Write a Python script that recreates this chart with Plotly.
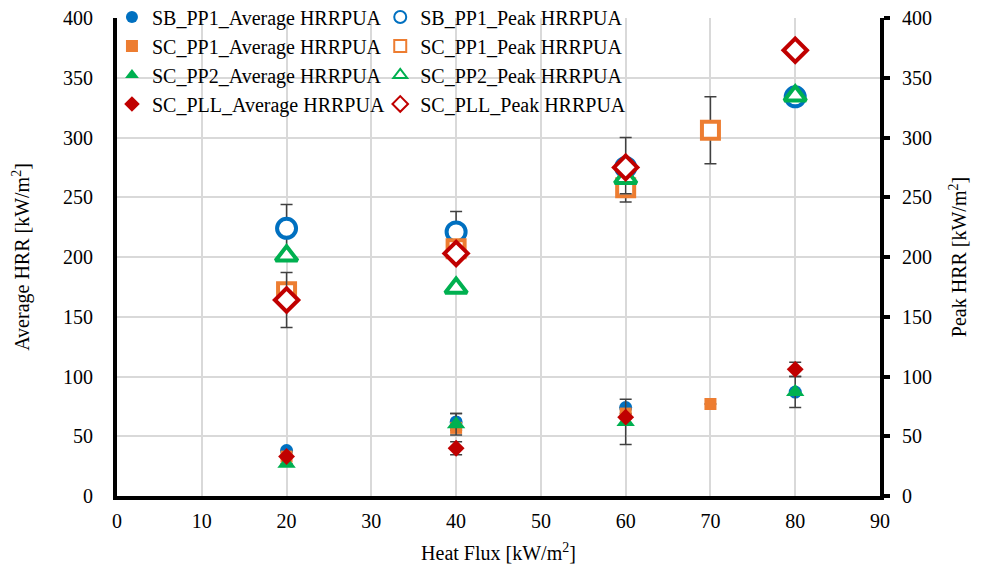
import plotly.graph_objects as go

heat_flux_4 = [20, 40, 60, 80]
heat_flux_pp1 = [20, 40, 60, 70]

sb_pp1_avg = [38, 62, 74, 87]
sb_pp1_avg_err = [0, 7, 0, 0]
sb_pp1_peak = [224, 221, 275, 334]
sb_pp1_peak_err = [20, 17, 25, 3]

sc_pp1_avg = [33, 57, 69, 77]
sc_pp1_avg_err = [0, 0, 0, 0]
sc_pp1_peak = [171, 207, 258, 306]
sc_pp1_peak_err = [0, 0, 12, 28]

sc_pp2_avg = [27, 60, 62, 87]
sc_pp2_avg_err = [0, 9, 19, 13]
sc_pp2_peak = [201, 174, 266, 335]
sc_pp2_peak_err = [0, 3, 13, 3]

sc_pll_avg = [33, 40, 66, 106]
sc_pll_avg_err = [0, 5.5, 0, 6]
sc_pll_peak = [164, 203, 275, 373]
sc_pll_peak_err = [23, 4, 0, 4]

BLUE = "#0070C0"
ORANGE = "#ED7D31"
GREEN = "#00B050"
RED = "#C00000"
ERR = "#404040"

FONT = "Times New Roman, Times, Liberation Serif, DejaVu Serif, serif"

def err(arr):
    return dict(type="data", array=arr, visible=True, color=ERR, thickness=1.5, width=6)

fig = go.Figure()

series = [
    ("SB_PP1", heat_flux_4, sb_pp1_avg, sb_pp1_avg_err, sb_pp1_peak, sb_pp1_peak_err, BLUE, "circle", 13, 19),
    ("SC_PP1", heat_flux_pp1, sc_pp1_avg, sc_pp1_avg_err, sc_pp1_peak, sc_pp1_peak_err, ORANGE, "square", 12, 17),
    ("SC_PP2", heat_flux_4, sc_pp2_avg, sc_pp2_avg_err, sc_pp2_peak, sc_pp2_peak_err, GREEN, "triangle-up", 16, 19),
    ("SC_PLL", heat_flux_4, sc_pll_avg, sc_pll_avg_err, sc_pll_peak, sc_pll_peak_err, RED, "diamond", 13, 18),
]

for name, xs, avg, avg_e, peak, peak_e, col, sym, s_avg, s_peak in series:
    fig.add_trace(go.Scatter(
        x=xs, y=avg, mode="markers", name=f"{name}_Average HRRPUA",
        marker=dict(symbol=sym, size=s_avg, color=col, line=dict(width=0)),
        error_y=err(avg_e), yaxis="y", legend="legend",
    ))
for name, xs, avg, avg_e, peak, peak_e, col, sym, s_avg, s_peak in series:
    fig.add_trace(go.Scatter(
        x=xs, y=peak, mode="markers", name=f"{name}_Peak HRRPUA",
        marker=dict(symbol=sym, size=s_peak, color="white", line=dict(width=4, color=col)),
        error_y=err(peak_e), yaxis="y2", legend="legend2",
    ))

legend_common = dict(
    orientation="v", y=1.043, xanchor="left", yanchor="top",
    font=dict(family=FONT, size=20, color="black"),
    bgcolor="rgba(255,255,255,0)", tracegroupgap=0, itemsizing="constant",
)

fig.update_layout(
    width=1001, height=573,
    margin=dict(l=117, r=121, t=18, b=77, autoexpand=False),
    paper_bgcolor="white", plot_bgcolor="white",
    font=dict(family=FONT, size=20, color="black"),
    showlegend=True,
    legend=dict(x=-0.0066, **legend_common),
    legend2=dict(x=0.345, **legend_common),
    xaxis=dict(
        range=[0, 90], dtick=10, tick0=0,
        showgrid=True, gridcolor="#D9D9D9", gridwidth=1.5,
        showline=True, linecolor="black", linewidth=4,
        zeroline=False, ticks="", ticklen=0, ticklabelstandoff=4,
        title=dict(text="Heat Flux [kW/m<sup>2</sup>]", standoff=16, font=dict(family=FONT, size=20)),
        tickfont=dict(family=FONT, size=20),
    ),
    yaxis=dict(
        range=[0, 400], dtick=50,
        showgrid=True, gridcolor="#D9D9D9", gridwidth=1.5,
        showline=True, linecolor="black", linewidth=4,
        zeroline=False, ticks="", ticklabelstandoff=16,
        title=dict(text="Average HRR [kW/m<sup>2</sup>]", standoff=29, font=dict(family=FONT, size=20)),
        tickfont=dict(family=FONT, size=20),
    ),
    yaxis2=dict(
        range=[0, 400], dtick=50, overlaying="y", side="right",
        showgrid=False, showline=True, linecolor="black", linewidth=4,
        zeroline=False, ticks="outside", ticklen=6, tickwidth=4, tickcolor="black",
        ticklabelstandoff=8,
        title=dict(text="Peak HRR [kW/m<sup>2</sup>]", standoff=22, font=dict(family=FONT, size=20)),
        tickfont=dict(family=FONT, size=20),
    ),
)

fig.write_html("out.html")
